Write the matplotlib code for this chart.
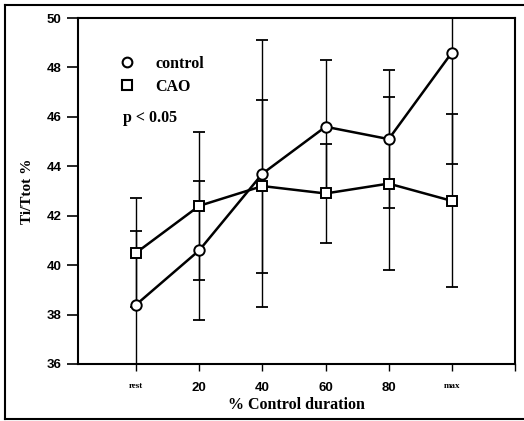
import matplotlib
matplotlib.use("Agg")
import matplotlib.pyplot as plt
from matplotlib.lines import Line2D
import numpy as np

categories = ["rest", "20", "40", "60", "80", "max"]
control_mean = [38.4, 40.6, 43.7, 45.6, 45.1, 48.6]
control_sd = [3.0, 2.8, 5.4, 2.7, 2.8, 4.5]
cao_mean = [40.5, 42.4, 43.2, 42.9, 43.3, 42.6]
cao_sd = [2.2, 3.0, 3.5, 2.0, 3.5, 3.5]
yticks = [36, 38, 40, 42, 44, 46, 48, 50]

W, H = 524, 421
fig = plt.figure(figsize=(W / 100, H / 100), dpi=100)
ax = fig.add_axes([78 / W, 1 - 364 / H, (515 - 78) / W, (364 - 18) / H])

x = np.arange(len(categories))
serif = ["Liberation Serif", "DejaVu Serif"]
sans = ["Liberation Sans", "DejaVu Sans"]

for mean, sd in [(cao_mean, cao_sd), (control_mean, control_sd)]:
    ax.errorbar(x, mean, yerr=sd, fmt="none", ecolor="black", elinewidth=1.0,
                capsize=4, capthick=1.3, zorder=2)
for mean, mk in [(control_mean, "o"), (cao_mean, "s")]:
    ax.plot(x, mean, color="black", lw=1.8, marker=mk, markersize=7.5,
            markerfacecolor="white", markeredgecolor="black", markeredgewidth=1.4,
            zorder=3)

ax.set_xlim(-0.92, 6.0)
ax.set_ylim(36, 50)
ax.set_xticks(list(x) + [6])
ax.set_xticklabels(categories + [""])
ax.set_yticks(yticks)
ax.set_yticklabels([str(v) for v in yticks])
for lab in ax.get_yticklabels():
    lab.set_fontfamily(sans)
    lab.set_fontweight("bold")
    lab.set_fontsize(9.5)
for i, lab in enumerate(ax.get_xticklabels()):
    if i < len(categories) and categories[i] in ("rest", "max"):
        lab.set_fontfamily(serif)
        lab.set_fontsize(6.5)
    else:
        lab.set_fontfamily(sans)
        lab.set_fontsize(9.5)
    lab.set_fontweight("bold")

ax.tick_params(axis="y", direction="out", length=8, width=1.2, pad=4)
ax.tick_params(axis="x", direction="out", length=5, width=1.0, pad=8)
for s in ax.spines.values():
    s.set_linewidth(1.5)

ax.set_ylabel("Ti/Ttot %", fontfamily=serif, fontweight="bold", fontsize=11, labelpad=9)
ax.set_xlabel("% Control duration", fontfamily=serif, fontweight="bold", fontsize=11.5, labelpad=2)

handles = [
    Line2D([], [], ls="none", marker="o", markersize=7, markerfacecolor="white",
           markeredgecolor="black", markeredgewidth=1.5, label="control"),
    Line2D([], [], ls="none", marker="s", markersize=7.5, markerfacecolor="white",
           markeredgecolor="black", markeredgewidth=1.5, label="CAO"),
]
leg = ax.legend(handles=handles, loc="upper left", bbox_to_anchor=(0.094, 0.89),
                frameon=False, handletextpad=1.25, labelspacing=0.42, handlelength=1.0,
                borderpad=0, borderaxespad=0,
                prop={"family": serif, "weight": "bold", "size": 11.5})
ax.text(0.102, 0.711, "p < 0.05", transform=ax.transAxes, fontfamily=serif,
        fontweight="bold", fontsize=11.5, va="center", ha="left")

# outer frame (right side falls outside the image)
lw = 1.5
fig.add_artist(Line2D([5 / W, 1.0], [1 - 5 / H, 1 - 5 / H], color="black", lw=lw))
fig.add_artist(Line2D([5 / W, 5 / W], [1 - 5 / H, 1 - 419 / H], color="black", lw=lw))
fig.add_artist(Line2D([5 / W, 1.0], [1 - 419 / H, 1 - 419 / H], color="black", lw=lw))

fig.savefig("out.png", dpi=100)
